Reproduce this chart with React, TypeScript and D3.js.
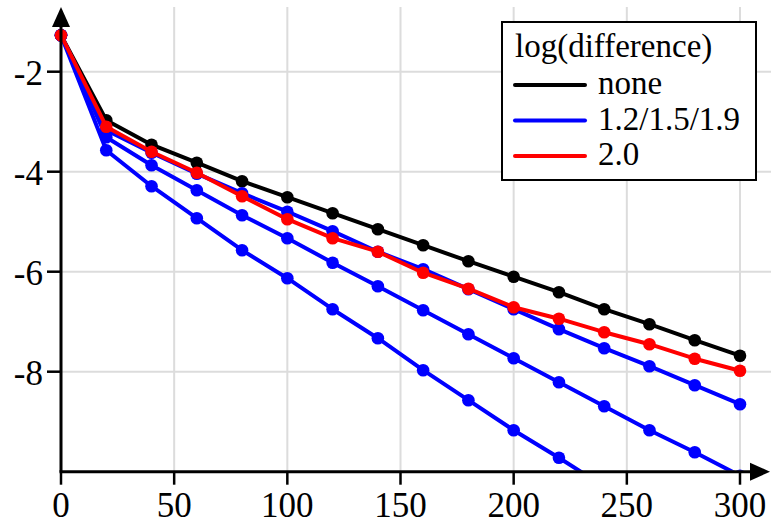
import React from "react";
import * as d3 from "d3";

const xsAll = [0, 20, 40, 60, 80, 100, 120, 140, 160, 180, 200, 220, 240, 260, 280, 300];
const noneVals = [-1.27, -2.97, -3.46, -3.82, -4.19, -4.51, -4.83, -5.15, -5.47, -5.79, -6.1, -6.41, -6.75, -7.05, -7.37, -7.68];
const redVals = [-1.27, -3.1, -3.6, -4.02, -4.49, -4.95, -5.33, -5.6, -6.02, -6.34, -6.71, -6.94, -7.21, -7.45, -7.74, -7.98];
const blueTop = [-1.27, -3.17, -3.62, -4.04, -4.43, -4.8, -5.19, -5.6, -5.95, -6.35, -6.75, -7.15, -7.53, -7.89, -8.27, -8.65];
const blueMid = [-1.27, -3.31, -3.87, -4.37, -4.87, -5.33, -5.82, -6.29, -6.77, -7.25, -7.73, -8.21, -8.69, -9.17, -9.61, -10.08];
const blueLow = [-1.27, -3.57, -4.29, -4.93, -5.57, -6.13, -6.75, -7.33, -7.97, -8.57, -9.17, -9.72, -10.3];

const xTicks = [0, 50, 100, 150, 200, 250, 300];
const yTicks = [-2, -4, -6, -8];
const legendTitle = "log(difference)";
const legendLabels = ["none", "1.2/1.5/1.9", "2.0"];
const legendColors = ["#000000", "#0000ff", "#ff0000"];

const FONT = "Times New Roman";

export default function App() {
  const x = d3.scaleLinear().domain([0, 300]).range([61, 740]);
  const y = d3.scaleLinear().domain([-10, -2]).range([471.7, 71.7]);
  const line = d3
    .line<[number, number]>()
    .x((d) => x(d[0]))
    .y((d) => y(d[1]));

  const series = [
    { vals: noneVals, color: "#000000" },
    { vals: blueTop, color: "#0000ff" },
    { vals: blueMid, color: "#0000ff" },
    { vals: blueLow, color: "#0000ff" },
    { vals: redVals, color: "#ff0000" },
  ];

  const x0 = x(0);
  const yAxis = y(-10);
  const ts = { fontFamily: "Liberation Serif, Times New Roman, serif" };

  return (
    <svg width={771} height={524} fontFamily="Liberation Serif" style={{ position: "absolute", left: 0, top: 0, background: "#fff" }}>
      <defs>
        <clipPath id="plotclip">
          <rect x={0} y={0} width={771} height={yAxis - 1} />
        </clipPath>
      </defs>
      {/* grid */}
      {xTicks
        .filter((t) => t !== 0)
        .map((t) => (
          <line key={"gx" + t} x1={x(t)} x2={x(t)} y1={7} y2={yAxis} stroke="#dcdcdc" strokeWidth={2} />
        ))}
      {yTicks.map((t) => (
        <line key={"gy" + t} x1={x0} x2={771} y1={y(t)} y2={y(t)} stroke="#dcdcdc" strokeWidth={2} />
      ))}

      {/* series */}
      <g clipPath="url(#plotclip)">
        {series.map((s, i) => {
          const pts: [number, number][] = s.vals.map((v, j) => [xsAll[j], v]);
          return (
            <g key={"s" + i}>
              <path d={line(pts) || ""} fill="none" stroke={s.color} strokeWidth={4} strokeLinejoin="round" />
              {pts.map((p, j) => (
                <circle key={j} cx={x(p[0])} cy={y(p[1])} r={6.3} fill={s.color} />
              ))}
            </g>
          );
        })}
      </g>

      {/* axes */}
      <line x1={x0} x2={x0} y1={24} y2={yAxis} stroke="#000" strokeWidth={3} />
      <path d={`M${x0 - 9},${27} L${x0},${7} L${x0 + 9},${27} Z`} fill="#000" />
      <line x1={x0 - 1.5} x2={752} y1={yAxis} y2={yAxis} stroke="#000" strokeWidth={3} />
      <path d={`M${750},${yAxis - 9} L${770},${yAxis} L${750},${yAxis + 9} Z`} fill="#000" />

      {yTicks.map((t) => (
        <g key={"yt" + t}>
          <line x1={x0 - 14} x2={x0} y1={y(t)} y2={y(t)} stroke="#000" strokeWidth={2.5} />
          <text x={43} y={y(t) + 13} textAnchor="end" fontSize={35} fill="#000" fontFamily={FONT} style={ts}>
            {String(t)}
          </text>
        </g>
      ))}
      {xTicks.map((t) => (
        <g key={"xt" + t}>
          <line x1={x(t)} x2={x(t)} y1={yAxis} y2={yAxis + 13} stroke="#000" strokeWidth={2.5} />
          <text x={x(t)} y={517} textAnchor="middle" fontSize={35} fill="#000" fontFamily={FONT} style={ts}>
            {String(t)}
          </text>
        </g>
      ))}

      {/* legend */}
      <rect x={502} y={22} width={254} height={158} fill="#fff" stroke="#000" strokeWidth={2} />
      <text x={515} y={57} fontSize={33} fill="#000" fontFamily={FONT} style={ts}>
        {legendTitle}
      </text>
      {legendLabels.map((lab, i) => {
        const cy = 85 + i * 35.5;
        return (
          <g key={"lg" + i}>
            <line x1={515} x2={585} y1={cy} y2={cy} stroke={legendColors[i]} strokeWidth={4} strokeLinecap="round" />
            <text x={598} y={cy + 9} fontSize={33} fill="#000" fontFamily={FONT} style={ts}>
              {lab}
            </text>
          </g>
        );
      })}
    </svg>
  );
}
